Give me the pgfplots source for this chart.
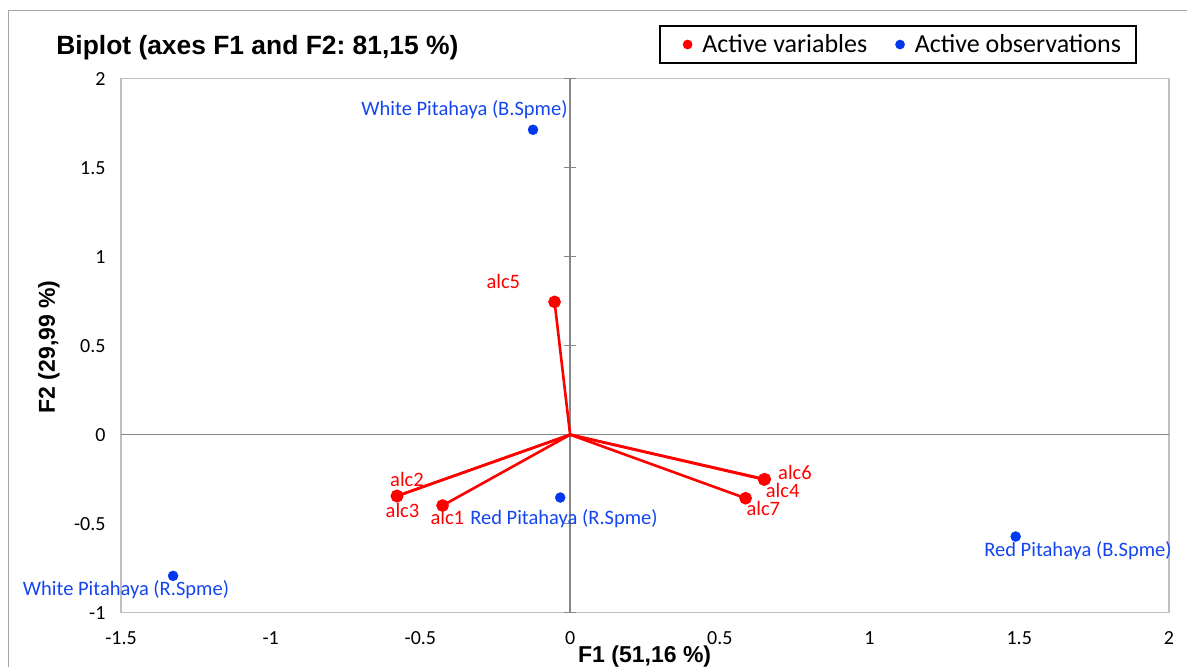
\documentclass[border=0pt]{standalone}
\usepackage{fontspec}
\setmainfont{Carlito}
\newfontfamily\arialf{Liberation Sans}
\usepackage{pgfplots}
\pgfplotsset{compat=1.18}
\definecolor{varred}{RGB}{255,0,0}
\definecolor{obsblue}{RGB}{0,56,240}
\definecolor{obstext}{RGB}{20,70,240}
\definecolor{framegray}{RGB}{192,192,192}
\definecolor{zerogray}{RGB}{134,134,134}
\definecolor{outergray}{RGB}{165,165,165}
\frenchspacing
\begin{document}
\begin{tikzpicture}[x=1bp,y=1bp]
\useasboundingbox (0,0) rectangle (1187,667);
\draw[outergray, line width=1.3bp] (8.3,0) -- (8.3,656.5) -- (1187,656.5);
\begin{axis}[
  at={(121bp,54.3bp)}, anchor=south west,
  width=1048bp, height=534bp, scale only axis,
  xmin=-1.5, xmax=2, ymin=-1, ymax=2,
  clip=false,
  axis line style={draw=framegray, line width=1.5bp},
  major tick length=0pt,
  xtick={-1.5,-1,-0.5,0,0.5,1,1.5,2},
  xticklabels={-1.5,-1,-0.5,0,0.5,1,1.5,2},
  ytick={-1,-0.5,0,0.5,1,1.5,2},
  yticklabels={-1,-0.5,0,0.5,1,1.5,2},
  xticklabel style={font=\fontsize{20bp}{24bp}\selectfont, anchor=north, yshift=-15bp},
  yticklabel style={font=\fontsize{20bp}{24bp}\selectfont, anchor=east, xshift=-12bp},
  title={Biplot (axes F1 and F2: 81,15 \%)},
  every axis title/.style={at={(axis description cs:-0.0650,1.0453)}, anchor=base west, font=\arialf\bfseries\fontsize{26.4bp}{30bp}\selectfont},
  xlabel={F1 (51,16 \%)},
  every axis x label/.style={at={(axis description cs:0.4997,-0.0942)}, anchor=base, font=\arialf\bfseries\fontsize{23bp}{27bp}\selectfont},
  ylabel={F2 (29,99 \%)},
  every axis y label/.style={at={(axis description cs:-0.0630,0.4976)}, anchor=base, rotate=90, font=\arialf\bfseries\fontsize{23bp}{27bp}\selectfont},
  legend columns=2,
  legend style={at={(axis description cs:0.5134,1.1006)}, anchor=north west,
    draw=black, line width=1.6bp, font=\fontsize{26bp}{30bp}\selectfont,
    inner xsep=13bp, inner ysep=7bp,
    /tikz/every odd column/.append style={column sep=8bp},
    /tikz/every even column/.append style={column sep=26bp}},
  legend cell align=left,
]
% zero axes
\draw[zerogray, line width=1.3bp] (axis cs:-1.5,0) -- (axis cs:2,0);
\draw[zerogray, line width=1.3bp] (axis cs:0,-1) -- (axis cs:0,2);
\pgfplotsinvokeforeach{-1,-0.5,0.5,1,1.5,2}{
  \draw[zerogray, line width=1.3bp] ([xshift=-6bp]axis cs:0,#1) -- ([xshift=6bp]axis cs:0,#1);
}
% variables (vectors from origin)
\addplot[varred, line width=2.6bp, mark=*, mark size=5bp, mark indices={2}, forget plot] coordinates {(0,0) (-0.426,-0.398)}; % alc1
\addplot[varred, line width=2.6bp, mark=*, mark size=5bp, mark indices={2}, forget plot] coordinates {(0,0) (-0.578,-0.344)}; % alc2
\addplot[varred, line width=2.6bp, mark=*, mark size=5bp, mark indices={2}, forget plot] coordinates {(0,0) (-0.578,-0.345)}; % alc3
\addplot[varred, line width=2.6bp, mark=*, mark size=5bp, mark indices={2}, forget plot] coordinates {(0,0) (0.648,-0.252)}; % alc4
\addplot[varred, line width=2.6bp, mark=*, mark size=5bp, mark indices={2}, forget plot] coordinates {(0,0) (-0.052,0.746)}; % alc5
\addplot[varred, line width=2.6bp, mark=*, mark size=5bp, mark indices={2}, forget plot] coordinates {(0,0) (0.650,-0.250)}; % alc6
\addplot[varred, line width=2.6bp, mark=*, mark size=5bp, mark indices={2}, forget plot] coordinates {(0,0) (0.586,-0.357)}; % alc7
% observations
\addplot[only marks, mark=*, mark size=5bp, color=obsblue, forget plot] coordinates {
  (-0.124,1.713) (-0.033,-0.353) (1.488,-0.572) (-1.326,-0.793)};
% legend
\addlegendimage{legend image code/.code={\fill[varred] (14bp,0) circle (4bp); \path (0,0);}}
\addlegendentry{Active variables}
\addlegendimage{legend image code/.code={\fill[obsblue] (4bp,0) circle (4bp);}}
\addlegendentry{Active observations}
\end{axis}
% point labels
\begin{scope}[every node/.style={font=\fontsize{20.5bp}{24bp}\selectfont, inner sep=0pt, anchor=base}]
\node[text=varred] at (407,180.5) {alc2};
\node[text=varred] at (402.5,149.7) {alc3};
\node[text=varred] at (447.3,142) {alc1};
\node[text=varred] at (795,187) {alc6};
\node[text=varred] at (782.7,169.7) {alc4};
\node[text=varred] at (763.3,151.3) {alc7};
\node[text=varred] at (503.3,378.7) {alc5};
\node[text=obstext] at (564,142) {Red Pitahaya (R.Spme)};
\node[text=obstext] at (464.5,551) {White Pitahaya (B.Spme)};
\node[text=obstext] at (1078,110) {Red Pitahaya (B.Spme)};
\node[text=obstext] at (126,71) {White Pitahaya (R.Spme)};
\end{scope}
\end{tikzpicture}
\end{document}
